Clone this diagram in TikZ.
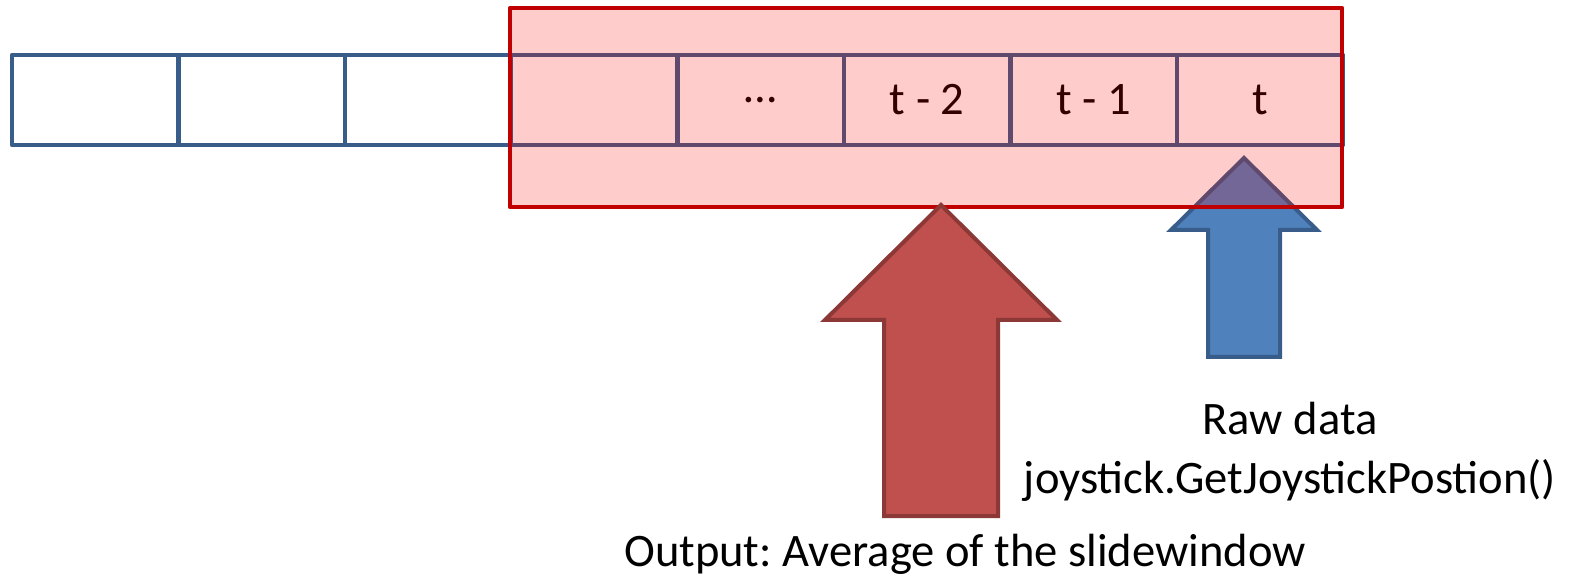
\documentclass[tikz,border=0pt]{standalone}
\usepackage{fontspec}
\setmainfont{Carlito}
\usetikzlibrary{calc,positioning}
\definecolor{cellblue}{HTML}{385D8A}
\definecolor{rawfill}{HTML}{4F81BD}
\definecolor{outfill}{HTML}{C0504D}
\definecolor{outline}{HTML}{8C3836}
\definecolor{winred}{HTML}{C00000}
\newcommand{\labelfont}{\fontsize{26.5}{33.5}\selectfont\frenchspacing}
\tikzset{
  cell/.style={draw=cellblue,line width=.09cm,minimum width=3.328cm,minimum height=1.8cm,inner sep=0pt,font=\labelfont},
  window/.style={draw=winred,line width=.09cm,fill=red,fill opacity=.2},
  rawarrow/.style={draw=cellblue,fill=rawfill,line width=.08cm,line join=miter},
  outarrow/.style={draw=outline,fill=outfill,line width=.08cm,line join=miter},
  caption/.style={font=\labelfont,inner sep=0pt,align=center}
}

\begin{document}
\begin{tikzpicture}[x=0.02cm,y=-0.02cm,line join=round]
  \useasboundingbox (0,0) rectangle (1582,577);

  % buffer cells
  \foreach \i/\txt in {1/{},2/{},3/{},4/{},5/{…},6/{t - 2},7/{t - 1},8/{t}}
    \node[cell] (c\i) at ({12+(\i-0.5)*166.4},100) {\txt};

  % raw data goes in at t
  \coordinate (rawtip) at (1244,158);
  \draw[rawarrow] (rawtip) -- ++(73,72) -- ++(-37,0) -- ++(0,127)
        -- ++(-72,0) -- ++(0,-127) -- ++(-37,0) -- cycle;

  % sliding window
  \draw[window] (510,8) rectangle (1342,207);

  % averaged output
  \coordinate (outtip) at (941,205);
  \draw[outarrow] (outtip) -- ++(116,115) -- ++(-59,0) -- ++(0,196)
        -- ++(-114,0) -- ++(0,-196) -- ++(-59,0) -- cycle;

  \node[caption,anchor=north] (raw) at (1290,402) {Raw data\\joystick.GetJoystickPostion()};
  \node[caption,anchor=base] (out) at (965,566) {Output: Average of the slidewindow};
\end{tikzpicture}
\end{document}
